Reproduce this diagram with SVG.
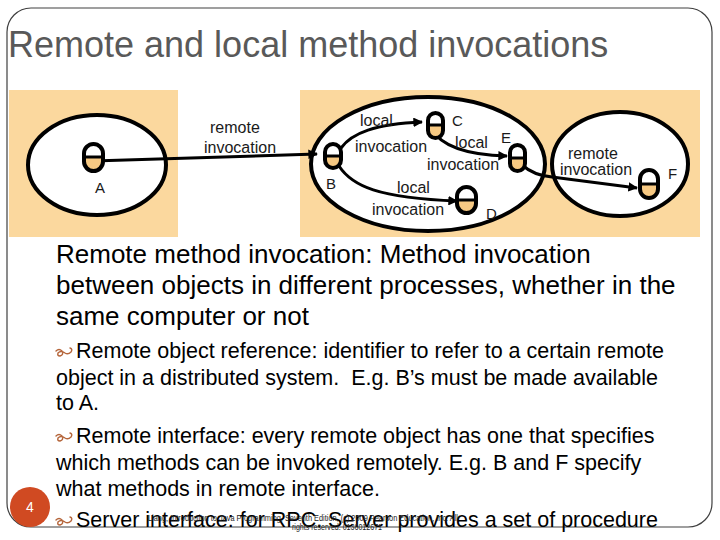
<svg xmlns="http://www.w3.org/2000/svg" width="720" height="540" viewBox="0 0 720 540">
<defs>
<style>
.ttl{font-family:"Liberation Sans",Arial,sans-serif;font-size:36px;fill:#595959}
.b1{font-family:"Liberation Sans",Arial,sans-serif;font-size:26px;fill:#000}
.b2{font-family:"Liberation Sans",Arial,sans-serif;font-size:21.5px;fill:#000;white-space:pre}
.lbl{font-family:"Liberation Sans",Arial,sans-serif;font-size:16px;fill:#1a1a1a}
.nm{font-family:"Liberation Sans",Arial,sans-serif;font-size:15px;fill:#1a1a1a}
.ft{font-family:"Liberation Sans",Arial,sans-serif;font-size:9px;fill:#222}
.proc{fill:#fff;stroke:#000;stroke-width:4}
.obj{fill:none;stroke:#000;stroke-width:4}
.half{fill:#f7c983}
.mid{stroke:#000;stroke-width:3}
.con{fill:none;stroke:#000;stroke-width:3}
.bul{fill:none;stroke:#b5653a;stroke-width:1.4;stroke-linecap:round}
</style>
<marker id="ah" viewBox="0 0 10 10" refX="9" refY="5" markerWidth="3.2" markerHeight="3.2" orient="auto" markerUnits="strokeWidth">
<path d="M0,0 L10,5 L0,10 z" fill="#000"/>
</marker>
</defs>
<rect x="0" y="0" width="720" height="540" fill="#fff"/>
<rect x="7" y="8" width="705" height="519" rx="24" ry="24" fill="none" stroke="#404040" stroke-width="1.2"/>
<text class="ttl" x="8" y="57">Remote and local method invocations</text>

<rect x="9" y="90" width="169" height="147" fill="#fbd89e"/>
<rect x="300" y="90" width="400" height="147" fill="#fbd89e"/>

<g id="process-A">
<ellipse class="proc" cx="97" cy="165" rx="69" ry="50"/>
</g>
<g id="process-BCDE">
<ellipse class="proc" cx="428" cy="164" rx="117" ry="67"/>
</g>
<g id="process-F">
<ellipse class="proc" cx="620" cy="164" rx="68" ry="52"/>
</g>

<g id="connectors">
<path class="con" d="M93,161 L317,154" marker-end="url(#ah)"/>
<path class="con" d="M341,148 C352,133 375,124 422,122" marker-end="url(#ah)"/>
<path class="con" d="M431,128 C440,145 465,155 507,156" marker-end="url(#ah)"/>
<path class="con" d="M339,166 C352,186 378,198 457,201" marker-end="url(#ah)"/>
<path class="con" d="M522,165 C530,172 540,176 552,177 L637,188" marker-end="url(#ah)"/>
</g>

<g id="obj-A">
<path class="half" d="M84,157 L103,157 L103,161.5 A9.5,9.5 0 0 1 84,161.5 Z"/>
<rect class="obj" x="84" y="144" width="19" height="27" rx="9.5"/>
<line class="mid" x1="84" y1="157" x2="103" y2="157"/>
<text class="nm" x="95" y="193">A</text>
</g>
<g id="obj-B">
<path class="half" d="M325,156 L341,156 L341,160 A8,8 0 0 1 325,160 Z"/>
<rect class="obj" x="325" y="144" width="16" height="24" rx="8"/>
<line class="mid" x1="325" y1="156" x2="341" y2="156"/>
<text class="nm" x="326" y="189">B</text>
</g>
<g id="obj-C">
<path class="half" d="M428,125 L443,125 L443,130.5 A7.5,7.5 0 0 1 428,130.5 Z"/>
<rect class="obj" x="428" y="113" width="15" height="25" rx="7.5"/>
<line class="mid" x1="428" y1="125" x2="443" y2="125"/>
<text class="nm" x="452" y="126">C</text>
</g>
<g id="obj-E">
<path class="half" d="M510,158 L525,158 L525,163.5 A7.5,7.5 0 0 1 510,163.5 Z"/>
<rect class="obj" x="510" y="145" width="15" height="26" rx="7.5"/>
<line class="mid" x1="510" y1="158" x2="525" y2="158"/>
<text class="nm" x="501" y="143">E</text>
</g>
<g id="obj-D">
<path class="half" d="M457,200 L476,200 L476,203.5 A9.5,9.5 0 0 1 457,203.5 Z"/>
<rect class="obj" x="457" y="187" width="19" height="26" rx="9.5"/>
<line class="mid" x1="457" y1="200" x2="476" y2="200"/>
<text class="nm" x="486" y="219">D</text>
</g>
<g id="obj-F">
<path class="half" d="M640,184 L658,184 L658,189 A9,9 0 0 1 640,189 Z"/>
<rect class="obj" x="640" y="170" width="18" height="28" rx="9"/>
<line class="mid" x1="640" y1="184" x2="658" y2="184"/>
<text class="nm" x="668" y="179">F</text>
</g>

<g id="labels">
<text class="lbl" x="210" y="133">remote</text>
<text class="lbl" x="204" y="153">invocation</text>
<text class="lbl" x="360" y="126">local</text>
<text class="lbl" x="355" y="152">invocation</text>
<text class="lbl" x="455" y="148">local</text>
<text class="lbl" x="427" y="170">invocation</text>
<text class="lbl" x="397" y="193">local</text>
<text class="lbl" x="372" y="215">invocation</text>
<text class="lbl" x="568" y="159">remote</text>
<text class="lbl" x="560" y="175">invocation</text>
</g>

<g id="body">
<text class="b1" x="56" y="263">Remote method invocation: Method invocation</text>
<text class="b1" x="56" y="294">between objects in different processes, whether in the</text>
<text class="b1" x="56" y="325">same computer or not</text>
<path class="bul" d="M56,351 q3,-3 6,0 q2,4 -2,5 q-3,0 -2,-3 q3,-3 7,0 q3,2 6,-1 q2,-3 -1,-4"/>
<text class="b2" x="76" y="358">Remote object reference: identifier to refer to a certain remote</text>
<text class="b2" x="56" y="385">object in a distributed system.  E.g. B’s must be made available</text>
<text class="b2" x="56" y="410">to A.</text>
<path class="bul" d="M56,436 q3,-3 6,0 q2,4 -2,5 q-3,0 -2,-3 q3,-3 7,0 q3,2 6,-1 q2,-3 -1,-4"/>
<text class="b2" x="76" y="443">Remote interface: every remote object has one that specifies</text>
<text class="b2" x="56" y="470">which methods can be invoked remotely. E.g. B and F specify</text>
<text class="b2" x="56" y="496">what methods in remote interface.</text>
<path class="bul" d="M56,520 q3,-3 6,0 q2,4 -2,5 q-3,0 -2,-3 q3,-3 7,0 q3,2 6,-1 q2,-3 -1,-4"/>
<text class="b2" x="76" y="527">Server interface: for RPC. Server provides a set of procedure</text>
</g>

<g id="footer">
<text class="ft" x="148" y="521" textLength="310" lengthAdjust="spacingAndGlyphs">Liang, Introduction to Java Programming, Seventh Edition, (c) 2009 Pearson Education, Inc. All</text>
<text class="ft" x="292" y="530" textLength="90" lengthAdjust="spacingAndGlyphs">rights reserved. 0136012671</text>
</g>

<g id="slide-number">
<circle cx="30" cy="507" r="20" fill="#d04a22"/>
<text x="30" y="512" text-anchor="middle" style="font-family:'Liberation Sans',Arial,sans-serif;font-size:14px;fill:#fff">4</text>
</g>
</svg>
